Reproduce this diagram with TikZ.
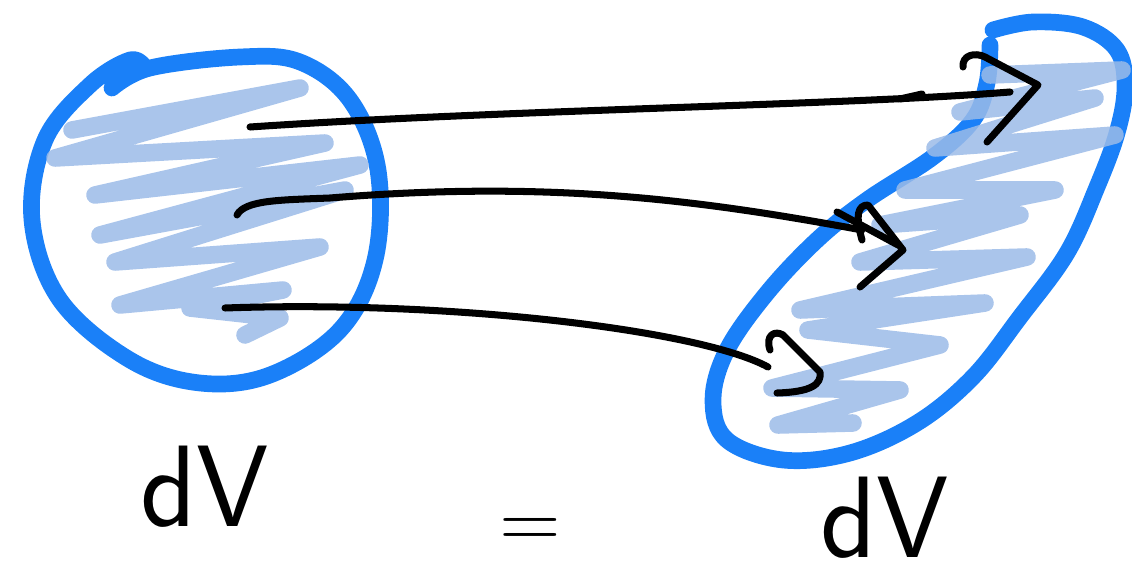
\documentclass[tikz,border=0pt]{standalone}
\usetikzlibrary{positioning}
\definecolor{PB}{RGB}{26,128,248}
\definecolor{LB}{RGB}{155,187,232}
\begin{document}
\begin{tikzpicture}[x=0.02cm, y=-0.02cm,
  rim/.style={draw=PB, line width=9.5pt, line cap=round, line join=round},
  hatch/.style={draw=LB, line width=10pt, line cap=round, line join=round, opacity=0.85},
  flow/.style={draw=black, line width=4pt, line cap=round, line join=round},
  lbl/.style={font=\sffamily\fontsize{66}{66}\selectfont, inner sep=0pt}
]
\useasboundingbox (0,0) rectangle (1132,580);

% volume before
\draw[rim] plot[smooth, tension=0.6] coordinates {
  (112,88) (150,68) (240,57) (300,62) (350,100) (378,170) (375,260)
  (340,330) (270,375) (200,383) (130,360) (60,300) (32,220) (45,140)
  (90,85) (130,60) (145,68)};
\draw[hatch] (72,130) -- (300,88) -- (55,158) -- (325,143) -- (95,195)
  -- (360,165) -- (100,235) -- (345,190) -- (115,262) -- (320,247)
  -- (120,305) -- (283,290) -- (190,308) -- (280,318) -- (245,335);

% volume after
\draw[rim] plot[smooth, tension=0.6] coordinates {
  (990,45) (987,83) (973,120) (933,157) (867,200) (817,240) (767,293)
  (727,350) (713,400) (727,440) (783,460) (850,453) (917,423) (973,377)
  (1020,317) (1067,253) (1097,187) (1117,133) (1125,87) (1117,50)
  (1083,27) (1033,22) (993,30)};
\draw[hatch] (990,75) -- (1122,70) -- (960,112) -- (1095,98) -- (935,148)
  -- (1115,135) -- (905,190) -- (1055,190) -- (880,225) -- (1020,215)
  -- (860,262) -- (1027,257) -- (800,310) -- (985,303) -- (808,330)
  -- (940,345) -- (772,388) -- (900,390) -- (778,425) -- (853,423);

% flow lines
\coordinate (s1) at (250,127);
\coordinate (e1) at (1010,92);
\coordinate (s2) at (237,215);
\coordinate (e2) at (862,230);
\coordinate (s3) at (225,308);
\coordinate (e3) at (768,367);

\draw[flow] (s1) .. controls (500,110) and (850,105) .. (e1);
\draw[flow] (900,99) -- (922,94);
\draw[flow] (963,67) .. controls (962,55) and (975,52) .. (985,57) -- (1038,85) -- (987,142);

\draw[flow] (s2) .. controls (245,200) and (280,200) .. (330,198)
  .. controls (550,180) and (700,200) .. (e2);
\draw[flow] (837,212) -- (898,245);
\draw[flow] (862,240) .. controls (855,215) and (858,205) .. (868,205) -- (903,250) -- (860,287);

\draw[flow] (s3) .. controls (450,300) and (700,330) .. (e3);
\draw[flow] (770,350) .. controls (765,335) and (775,330) .. (783,335) -- (820,372)
  .. controls (822,385) and (810,392) .. (777,393);

% labels
\node[lbl] (dVa) at (205,487) {dV};
\node[lbl, font=\sffamily\fontsize{48}{48}\selectfont] (eq) at (530,533) {=};
\node[lbl] (dVb) at (885,518) {dV};
\end{tikzpicture}
\end{document}
